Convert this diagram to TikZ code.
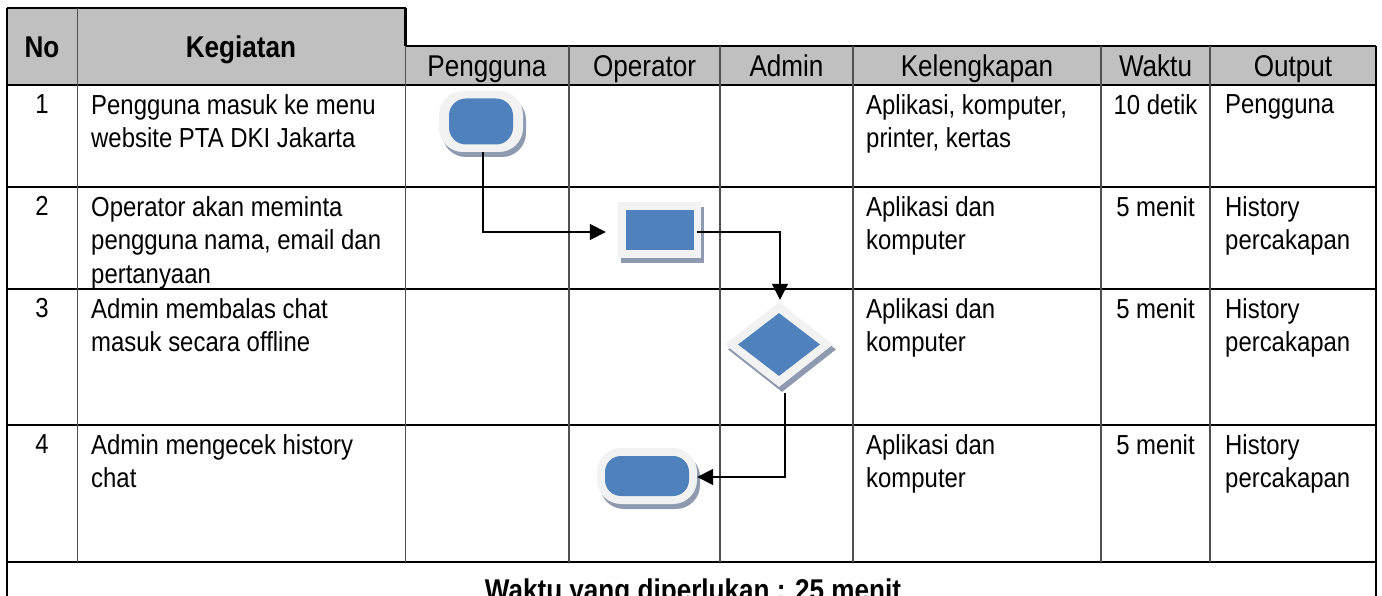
\documentclass[tikz,border=0pt]{standalone}
\usepackage{fontspec}
\setmainfont{Liberation Sans}[FakeStretch=0.87]
\usetikzlibrary{shapes.geometric,arrows.meta,shadows}
\definecolor{hdr}{HTML}{C0C0C0}
\definecolor{blu}{HTML}{4F81BD}
\definecolor{rimc}{HTML}{F2F2F2}
\definecolor{shd}{HTML}{8E9AB0}
\definecolor{vln}{HTML}{505050}
\tikzset{
  hl/.style={line width=2.6pt, black},
  vl/.style={line width=1.7pt, vln},
  bord/.style={line width=2.8pt, black},
  body/.style={anchor=north west, inner sep=0pt, align=left, font=\fontsize{27.5}{33.5}\selectfont},
  bodyc/.style={anchor=north, inner sep=0pt, align=center, font=\fontsize{27.5}{33.5}\selectfont},
  headr/.style={anchor=base, inner sep=0pt, font=\fontsize{30}{32}\selectfont},
  headb/.style={anchor=base, inner sep=0pt, font=\fontsize{30}{32}\selectfont\bfseries},
  shad/.style={general shadow={fill=shd, shadow xshift=3pt, shadow yshift=-5pt}},
  termout/.style={rectangle, rounded corners=24pt, fill=rimc, inner sep=0pt, shad},
  termin/.style={rectangle, rounded corners=17pt, fill=blu, inner sep=0pt},
  procout/.style={rectangle, fill=rimc, inner sep=0pt, shad, minimum width=83pt, minimum height=56pt},
  procin/.style={rectangle, fill=blu, inner sep=0pt, minimum width=68pt, minimum height=40pt},
  decout/.style={diamond, fill=rimc, inner sep=0pt, shad, minimum width=108pt, minimum height=85pt},
  decin/.style={diamond, fill=blu, inner sep=0pt, minimum width=82pt, minimum height=63pt},
  flow/.style={-{Triangle[length=16pt,width=16pt]}, line width=1.6pt, black},
}
\begin{document}
\begin{tikzpicture}[x=1pt,y=-1pt]
\useasboundingbox (0,0) rectangle (1382,596);
\clip (0,0) rectangle (1382,596);
% header fills
\fill[hdr] (7,8) rectangle (405.5,85);
\fill[hdr] (405.5,46) rectangle (1376,85);
% horizontal lines
\draw[hl] (7,8) -- (405.5,8);
\draw[hl] (405.5,46) -- (1376,46);
\foreach \yy in {85,187,289,425,562} \draw[hl] (7,\yy) -- (1376,\yy);
% vertical lines
\draw[vl] (77.5,8) -- (77.5,562);
\draw[bord] (405.5,8) -- (405.5,46);
\draw[vl] (405.5,46) -- (405.5,562);
\foreach \xx in {569,720,853,1101,1210} \draw[vl] (\xx,46) -- (\xx,562);
\draw[bord] (7,8) -- (7,600);
\draw[bord] (1376,46) -- (1376,600);
% header text
\node[headb] (hno) at (42,57.5) {No};
\node[headb] (hkeg) at (241,57.5) {Kegiatan};
\node[headr] (hpg) at (487,77) {Pengguna};
\node[headr] (hop) at (644.5,77) {Operator};
\node[headr] (had) at (786.5,77) {Admin};
\node[headr] (hkl) at (977,77) {Kelengkapan};
\node[headr] (hwk) at (1155.5,77) {Waktu};
\node[headr] (hout) at (1293,77) {Output};
% row 1
\node[bodyc] (n1) at (42,94) {1};
\node[body] (k1) at (91,94) {Pengguna masuk ke menu\\website PTA DKI Jakarta};
\node[body] (l1) at (866,94) {Aplikasi, komputer,\\printer, kertas};
\node[bodyc] (w1) at (1155.5,94) {10 detik};
\node[body] (o1) at (1225,94) {Pengguna};
% row 2
\node[bodyc] (n2) at (42,196) {2};
\node[body] (k2) at (91,196) {Operator akan meminta\\pengguna nama, email dan\\pertanyaan};
\node[body] (l2) at (866,196) {Aplikasi dan\\komputer};
\node[bodyc] (w2) at (1155.5,196) {5 menit};
\node[body] (o2) at (1225,196) {History\\percakapan};
% row 3
\node[bodyc] (n3) at (42,298) {3};
\node[body] (k3) at (91,298) {Admin membalas chat\\masuk secara offline};
\node[body] (l3) at (866,298) {Aplikasi dan\\komputer};
\node[bodyc] (w3) at (1155.5,298) {5 menit};
\node[body] (o3) at (1225,298) {History\\percakapan};
% row 4
\node[bodyc] (n4) at (42,434) {4};
\node[body] (k4) at (91,434) {Admin mengecek history\\chat};
\node[body] (l4) at (866,434) {Aplikasi dan\\komputer};
\node[bodyc] (w4) at (1155.5,434) {5 menit};
\node[body] (o4) at (1225,434) {History\\percakapan};
% total
\node[headb] (tot) at (693,600) {Waktu yang diperlukan : 25 menit};
% shapes
\node[termout, minimum width=84pt, minimum height=61pt] (t1) at (481,121.5) {};
\node[termin, minimum width=64pt, minimum height=46pt] (t1in) at (t1) {};
\node[procout] (p1) at (659.5,230) {};
\node[procin] (p1in) at (p1) {};
\node[decout] (d1) at (779,344.5) {};
\node[decin] (d1in) at (d1) {};
\node[termout, minimum width=100pt, minimum height=56pt] (t2) at (647,476) {};
\node[termin, minimum width=84pt, minimum height=40pt, rounded corners=16pt] (t2in) at (t2) {};
% connectors
\draw[flow] ([xshift=2pt]t1.south) |- ([xshift=-12pt,yshift=-2pt]p1.west);
\draw[flow] ([xshift=-4pt,yshift=-2pt]p1.east) -| ([xshift=1pt,yshift=2pt]d1.north);
\draw[flow] ([xshift=6pt,yshift=-6pt]d1.south) |- ([yshift=-1pt]t2.east);
\end{tikzpicture}
\end{document}
